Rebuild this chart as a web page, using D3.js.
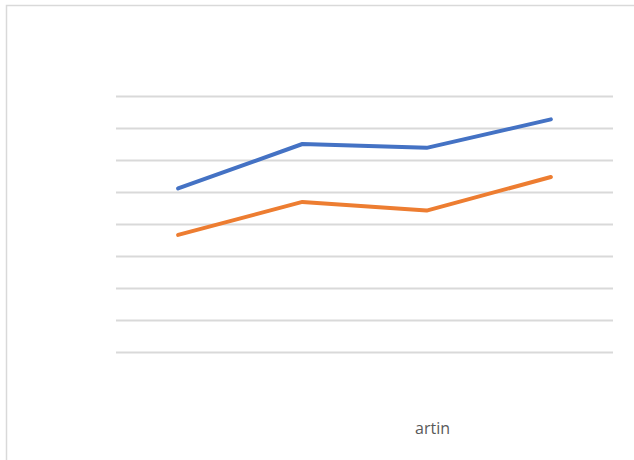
<!DOCTYPE html>
<html>
<head>
<meta charset="utf-8">
<script src="https://cdn.jsdelivr.net/npm/d3@7"></script>
<style>
  html, body { margin: 0; padding: 0; background: #fff; }
  svg { display: block; }
</style>
</head>
<body>
<svg id="chart" width="634" height="460"></svg>
<script>
const categories = ["1", "2", "3", "4"];
const seriesBlue = [51.1, 65.0, 63.8, 72.7];
const seriesOrange = [36.6, 46.9, 44.2, 54.7];
const gridTicks = [0, 10, 20, 30, 40, 50, 60, 70, 80];
const labelText = "artin";

const svg = d3.select("#chart");
const W = 634, H = 460;

// chart frame (clipped on right/bottom)
svg.append("rect")
  .attr("x", 6.5).attr("y", 5.5)
  .attr("width", W + 20).attr("height", H + 20)
  .attr("fill", "#fff")
  .attr("stroke", "#d9d9d9").attr("stroke-width", 1.5);

const x = d3.scalePoint().domain(categories).range([116, 613]).padding(0.5);
const y = d3.scaleLinear().domain([0, 80]).range([352, 96]);

const grid = d3.axisLeft(y).tickValues(gridTicks).tickSize(-(613 - 116)).tickFormat("");
const g = svg.append("g").attr("transform", "translate(116,0)").call(grid);
g.select(".domain").remove();
g.selectAll(".tick line").attr("stroke", "#d9d9d9").attr("stroke-width", 2);

const line = d3.line().x((d, i) => x(categories[i])).y(d => y(d));

svg.append("path").datum(seriesBlue)
  .attr("d", line).attr("fill", "none")
  .attr("stroke", "#4472c4").attr("stroke-width", 4)
  .attr("stroke-linecap", "round").attr("stroke-linejoin", "round");

svg.append("path").datum(seriesOrange)
  .attr("d", line).attr("fill", "none")
  .attr("stroke", "#ed7d31").attr("stroke-width", 4)
  .attr("stroke-linecap", "round").attr("stroke-linejoin", "round");

svg.append("text")
  .attr("x", 415).attr("y", 434)
  .attr("font-family", "Open Sans, sans-serif")
  .attr("font-size", 16)
  .attr("fill", "#595959")
  .text(labelText);
</script>
</body>
</html>
